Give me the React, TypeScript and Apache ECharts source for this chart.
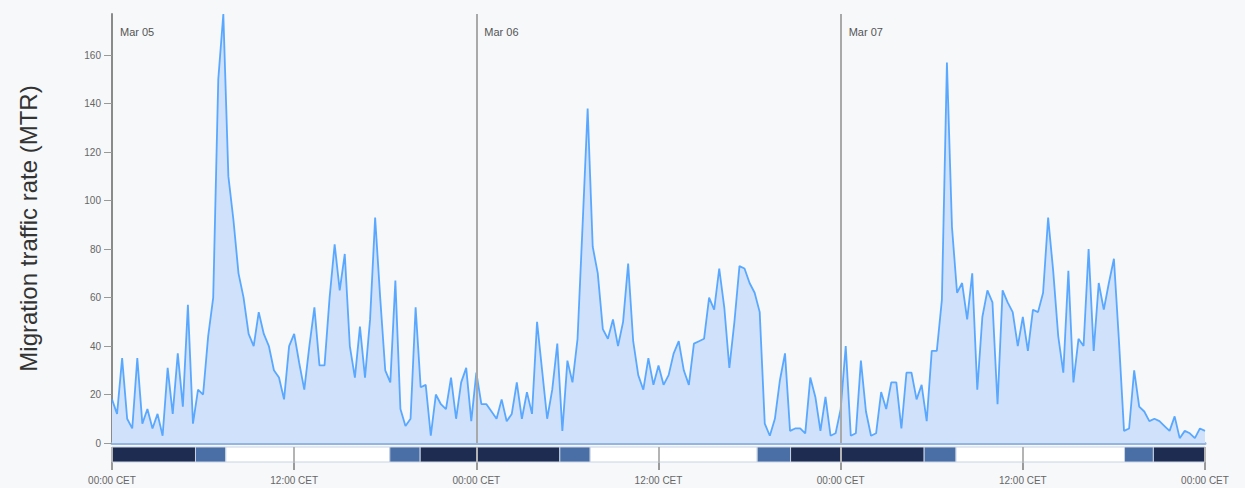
import React, { useEffect, useRef } from "react";
import * as echarts from "echarts";

// Radar migration traffic rate, 20-minute samples starting Mar 05 00:00 CET
const SAMPLE_STEP_HOURS = 1 / 3;
const dayLabels = ["Mar 05", "Mar 06", "Mar 07"];
const dayStartHours = [0, 24, 48];

const mtrMar05 = [
  18, 12, 35, 10, 6, 35, 8, 14, 6, 12, 3, 31, 12, 37, 15, 57, 8, 22, 20, 44,
  60, 150, 177, 110, 92, 70, 60, 45, 40, 54, 45, 40, 30, 27, 18, 40, 45, 33, 22, 40,
  56, 32, 32, 60, 82, 63, 78, 40, 27, 48, 27, 51, 93, 60, 30, 25, 67, 14, 7, 10,
  56, 23, 24, 3, 20, 16, 14, 27, 10, 25, 31, 9,
];
const mtrMar06 = [
  29, 16, 16, 13, 10, 18, 9, 12, 25, 10, 21, 12, 50, 30, 10, 22, 41, 5, 34, 25,
  43, 90, 138, 81, 70, 47, 43, 51, 40, 50, 74, 42, 28, 22, 35, 24, 32, 24, 28, 37,
  42, 30, 24, 41, 42, 43, 60, 55, 72, 56, 31, 50, 73, 72, 66, 62, 54, 8, 3, 10,
  26, 37, 5, 6, 6, 4, 27, 19, 5, 19, 3, 4,
];
// last value is the 00:00 sample of Mar 08
const mtrMar07 = [
  14, 40, 3, 4, 34, 13, 3, 4, 21, 14, 25, 25, 6, 29, 29, 18, 24, 9, 38, 38,
  59, 157, 89, 62, 66, 51, 70, 22, 52, 63, 58, 16, 63, 58, 54, 40, 52, 38, 55, 54,
  62, 93, 71, 44, 29, 71, 25, 43, 40, 80, 38, 66, 55, 66, 76, 42, 5, 6, 30, 15,
  13, 9, 10, 9, 7, 5, 11, 2, 5, 4, 2, 6, 5,
];

const yTicks = [0, 20, 40, 60, 80, 100, 120, 140, 160];
const xTicks = [0, 12, 24, 36, 48, 60, 72];
const xTickLabels = ["00:00 CET", "12:00 CET", "00:00 CET", "12:00 CET", "00:00 CET", "12:00 CET", "00:00 CET"];

// light phases: [start hour, end hour, kind] with 0 = night, 1 = twilight, 2 = day
const lightPhases: [number, number, number][] = [
  [0, 5.5, 0], [5.5, 7.5, 1], [7.5, 18.3, 2], [18.3, 20.3, 1],
  [20.3, 29.5, 0], [29.5, 31.5, 1], [31.5, 42.5, 2], [42.5, 44.7, 1],
  [44.7, 53.5, 0], [53.5, 55.6, 1], [55.6, 66.7, 2], [66.7, 68.6, 1],
  [68.6, 72, 0],
];
const phaseColors = ["#1f2c52", "#4a6ea6", "#ffffff"];

export default function App() {
  const ref = useRef<HTMLDivElement>(null);

  useEffect(() => {
    if (!ref.current) return;
    const chart = echarts.init(ref.current, undefined, { renderer: "svg" });

    const values = [...mtrMar05, ...mtrMar06, ...mtrMar07];
    const seriesData = values.map((v, i) => [i * SAMPLE_STEP_HOURS, v]);
    const yMax = Math.max(...values);

    chart.setOption({
      animation: false,
      backgroundColor: "#f6f8fa",
      grid: [
        { left: 112, right: 40, top: 14, bottom: 45 },
        { left: 112, right: 40, top: 447, height: 15 },
      ],
      xAxis: [
        {
          type: "value",
          gridIndex: 0,
          min: 0,
          max: 72,
          axisLine: { show: true, onZero: true, lineStyle: { color: "#93b5df", width: 3 } },
          axisTick: { show: false },
          axisLabel: { show: false },
          splitLine: { show: false },
        },
        {
          type: "value",
          gridIndex: 1,
          min: 0,
          max: 72,
          interval: 12,
          axisLine: { show: false },
          axisTick: { show: true, length: 8, lineStyle: { color: "#9a9a9a", width: 2 } },
          axisLabel: {
            color: "#666",
            fontSize: 10,
            margin: 13,
            formatter: (v: number) => xTickLabels[xTicks.indexOf(v)] ?? "",
          },
          splitLine: { show: false },
        },
      ],
      yAxis: [
        {
          type: "value",
          gridIndex: 0,
          min: 0,
          max: yMax,
          name: "Migration traffic rate (MTR)",
          nameLocation: "middle",
          nameGap: 72,
          nameTextStyle: { color: "#333", fontSize: 24 },
          axisLine: { show: true, lineStyle: { color: "#8a8a8a", width: 2 } },
          axisTick: { show: true, length: 8, customValues: yTicks, lineStyle: { color: "#999" } },
          axisLabel: { color: "#666", fontSize: 10, margin: 11, customValues: yTicks },
          splitLine: { show: false },
        },
        {
          type: "value",
          gridIndex: 1,
          min: 0,
          max: 1,
          show: false,
        },
      ],
      series: [
        {
          type: "line",
          xAxisIndex: 0,
          yAxisIndex: 0,
          data: seriesData,
          showSymbol: false,
          symbol: "none",
          lineStyle: { color: "#4aa0ff", width: 1.8, opacity: 0.9 },
          areaStyle: { color: "#d0e2fb", opacity: 1 },
          z: 2,
          markLine: {
            silent: true,
            symbol: "none",
            label: { show: false },
            lineStyle: { color: "#a9a9a9", width: 2, type: "solid" },
            data: dayStartHours.slice(1).map((h) => ({ xAxis: h })),
            z: 5,
          },
          markPoint: {
            silent: true,
            symbolSize: 0,
            data: dayLabels.map((d, i) => ({ name: d, coord: [dayStartHours[i], yMax] })),
            label: {
              show: true,
              position: "right",
              offset: [3, 18],
              formatter: "{b}",
              color: "#555",
              fontSize: 11,
            },
          },
        },
        {
          type: "custom",
          xAxisIndex: 1,
          yAxisIndex: 1,
          data: lightPhases,
          encode: { x: [0, 1], y: 2 },
          renderItem: (_params: any, api: any) => {
            const p0 = api.coord([api.value(0), 1]);
            const p1 = api.coord([api.value(1), 0]);
            return {
              type: "rect",
              shape: { x: p0[0], y: p0[1], width: p1[0] - p0[0], height: p1[1] - p0[1] },
              style: { fill: phaseColors[api.value(2)], stroke: "#c8d4e4", lineWidth: 1 },
            };
          },
          markLine: {
            silent: true,
            symbol: "none",
            label: { show: false },
            lineStyle: { color: "#b4b4b4", width: 2, type: "solid" },
            data: xTicks.map((h) => ({ xAxis: h })),
            z: 5,
          },
        },
      ],
    });

    return () => chart.dispose();
  }, []);

  return (
    <div
      ref={ref}
      style={{ position: "absolute", left: 0, top: 0, width: 1245, height: 488 }}
    />
  );
}
